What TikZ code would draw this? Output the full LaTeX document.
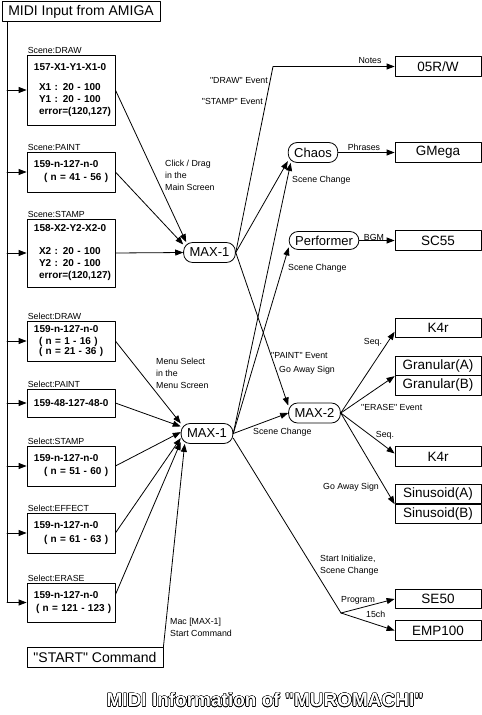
\documentclass[tikz,border=0pt]{standalone}
\usepackage{fontspec}
\setmainfont{Liberation Sans}[Ligatures=TeXOff]
\usepackage{contour}
\contourlength{0.5pt}
\usetikzlibrary{arrows.meta}

\begin{document}
\begin{tikzpicture}[x=1pt,y=-1pt,>={Triangle[length=8pt,width=6pt]},line cap=round,line join=round,
  wire/.style={line width=0.8pt},
  cmdbox/.style={draw,line width=0.8pt,minimum height=20pt,inner xsep=4pt,font=\fontsize{14}{16}\selectfont},
  codebox/.style={draw,line width=0.8pt,minimum width=88pt,text width=84pt,inner xsep=2pt,inner ysep=2pt,align=left,font=\bfseries\fontsize{10}{12}\selectfont},
  unitbox/.style={draw,line width=0.8pt,minimum width=86pt,minimum height=19.5pt,inner sep=1pt,font=\fontsize{13.5}{15}\selectfont},
  pill/.style={draw,line width=0.8pt,rounded corners=9pt,minimum height=20pt,inner xsep=6pt,inner ysep=1pt,font=\fontsize{13}{15}\selectfont},
  tag/.style={inner sep=1pt,anchor=south west,font=\fontsize{8.8}{12}\selectfont},
  note/.style={inner sep=0pt,align=left,font=\fontsize{8.8}{12}\selectfont}]
\useasboundingbox (0,0) rectangle (482,715);
% inputs
\node[cmdbox,minimum width=158pt] (amiga) at (81,11.5) {MIDI Input from AMIGA};
\node[cmdbox,minimum width=136pt] (start) at (95,657.5) {"START" Command};
\node[codebox,minimum height=70pt] (sdraw) at (71,90) {\hspace*{5pt}157-X1-Y1-X1-0\\[8pt]\hspace*{10pt}X1 : 20 - 100\\ \hspace*{10pt}Y1 : 20 - 100\\ \hspace*{10pt}error=(120,127)};
\node[tag] (sdrawtag) at (sdraw.north west) {Scene:DRAW};
\node[codebox,minimum height=40pt] (spaint) at (71,172) {\hspace*{5pt}159-n-127-n-0\\[1pt]\hspace*{15pt}( n = 41 - 56 )};
\node[tag] (spainttag) at (spaint.north west) {Scene:PAINT};
\node[codebox,minimum height=68pt] (sstamp) at (71,253) {\hspace*{5pt}158-X2-Y2-X2-0\\[11pt]\hspace*{10pt}X2 : 20 - 100\\ \hspace*{10pt}Y2 : 20 - 100\\ \hspace*{10pt}error=(120,127)};
\node[tag] (sstamptag) at (sstamp.north west) {Scene:STAMP};
\node[codebox,minimum height=40pt] (seldraw) at (71,341) {\hspace*{5pt}159-n-127-n-0\\ \hspace*{10pt}( n = 1 - 16 )\\[-2pt]\hspace*{10pt}( n = 21 - 36 )};
\node[tag] (seldrawtag) at (seldraw.north west) {Select:DRAW};
\node[codebox,minimum height=28pt] (selpaint) at (71,403) {\hspace*{5pt}159-48-127-48-0};
\node[tag] (selpainttag) at (selpaint.north west) {Select:PAINT};
\node[codebox,minimum height=40pt] (selstamp) at (71,466) {\hspace*{5pt}159-n-127-n-0\\[1pt]\hspace*{15pt}( n = 51 - 60 )};
\node[tag] (selstamptag) at (selstamp.north west) {Select:STAMP};
\node[codebox,minimum height=40pt] (seleffect) at (71,533) {\hspace*{5pt}159-n-127-n-0\\[2pt]\hspace*{15pt}( n = 61 - 63 )};
\node[tag] (seleffecttag) at (seleffect.north west) {Select:EFFECT};
\node[codebox,minimum height=39pt] (selerase) at (71,602.5) {\hspace*{5pt}159-n-127-n-0\\[1pt]\hspace*{7pt}( n = 121 - 123 )};
\node[tag] (selerasetag) at (selerase.north west) {Select:ERASE};
% processes
\node[pill] (maxA) at (209.5,252.5) {MAX-1};
\node[pill] (maxB) at (207,433.5) {MAX-1};
\node[pill] (max2) at (314.5,413) {MAX-2};
\node[pill] (chaos) at (313,152.5) {Chaos};
\node[pill,minimum height=18pt] (perf) at (324,240.5) {Performer};
% sound modules
\node[unitbox] (osr) at (438,66.5) {05R/W};
\node[unitbox] (gmega) at (438,152.5) {GMega};
\node[unitbox] (sc55) at (438,240.5) {SC55};
\node[unitbox] (k4rA) at (438,328) {K4r};
\node[unitbox] (granA) at (438,366) {Granular(A)};
\node[unitbox] (granB) at (438,385.5) {Granular(B)};
\node[unitbox] (k4rB) at (438,456.5) {K4r};
\node[unitbox] (sinA) at (438,494) {Sinusoid(A)};
\node[unitbox] (sinB) at (438,514) {Sinusoid(B)};
\node[unitbox] (se50) at (438,599) {SE50};
\node[unitbox] (emp) at (438,630.5) {EMP100};
\coordinate (bus) at (7,0);
\coordinate (notesbend) at (273,66.5);
\coordinate (split) at (341,613);
% MIDI bus
\draw[wire] (bus |- amiga.south) -- (bus |- selerase.west);
\draw[wire,->] (bus |- sdraw.west) -- (sdraw.west);
\draw[wire,->] (bus |- spaint.west) -- (spaint.west);
\draw[wire,->] (bus |- sstamp.west) -- (sstamp.west);
\draw[wire,->] (bus |- seldraw.west) -- (seldraw.west);
\draw[wire,->] (bus |- selpaint.west) -- (selpaint.west);
\draw[wire,->] (bus |- selstamp.west) -- (selstamp.west);
\draw[wire,->] (bus |- seleffect.west) -- (seleffect.west);
\draw[wire,->] (bus |- selerase.west) -- (selerase.west);
% into MAX-1
\draw[wire,->] (sdraw.east) -- (maxA.156);
\draw[wire,->] (spaint.east) -- (maxA.163);
\draw[wire,->] (sstamp.east) -- (maxA.west);
\draw[wire,->] (seldraw.east) -- (maxB.159);
\draw[wire,->] (selpaint.east) -- (maxB.165);
\draw[wire,->] (selstamp.east) -- (maxB.177);
\draw[wire,->] (seleffect.east) -- (maxB.190);
\draw[wire,->] (selerase.10) -- (maxB.198);
\draw[wire,->] (start.north east) -- (maxB.205);
% out of MAX-1
\draw[wire,->] (maxA.east) -- (notesbend) -- (osr.west);
\draw[wire,->] (maxA.east) -- (chaos.199);
\draw[wire,->] (maxA.east) -- (max2.164);
\draw[wire,->] (maxB.east) -- (chaos.205);
\draw[wire,->] (maxB.east) -- (perf.191);
\draw[wire,->] (maxB.east) -- (max2.west);
\draw[wire] (maxB.350) -- (split);
\draw[wire,->] (split) -- (se50.west);
\draw[wire,->] (split) -- (emp.west);
\draw[wire,->] (chaos.east) -- (gmega.west);
\draw[wire,->] (perf.east) -- (sc55.west);
% out of MAX-2
\draw[wire,->] (max2.east) -- (k4rA.185);
\draw[wire,->] (max2.east) -- (granA.south west);
\draw[wire,->] (max2.east) -- (k4rB.176);
\draw[wire,->] (max2.east) -- (sinA.south west);
% labels
\node[note] (notes) at (370,61) {Notes};
\node[note,anchor=east] (drawev) at (268,81) {"DRAW" Event};
\node[note,anchor=east] (stampev) at (263,101) {"STAMP" Event};
\node[note] (phrases) at (364,147) {Phrases};
\node[note,anchor=west] (chaosch) at (292,180) {Scene Change};
\node[note] (bgm) at (374,237) {BGM};
\node[note,anchor=west] (perfch) at (288,268) {Scene Change};
\node[note,anchor=west] (click) at (165,175) {Click / Drag\\in the\\Main Screen};
\node[note,anchor=west] (menu) at (156,373) {Menu Select\\in the\\Menu Screen};
\node[note,anchor=west] (paintev) at (271,356) {"PAINT" Event};
\node[note,anchor=west] (awayA) at (279,370) {Go Away Sign};
\node[note,anchor=west] (max2ch) at (253,432) {Scene Change};
\node[note] (seqA) at (373,342) {Seq.};
\node[note,anchor=west] (eraseev) at (361,407) {"ERASE" Event};
\node[note] (seqB) at (385,435) {Seq.};
\node[note,anchor=west] (awayB) at (323,487) {Go Away Sign};
\node[note,anchor=west] (initlbl) at (320,565.5) {Start Initialize,\\Scene Change};
\node[note,anchor=west] (program) at (341,600) {Program};
\node[note,anchor=west] (ch15) at (366,614) {15ch};
\node[note,anchor=west] (mac) at (170,627) {Mac [MAX-1]\\Start Command};
\node[text=white,font=\bfseries\fontsize{19}{21}\selectfont] (title) at (265,700) {\contour{black}{MIDI Information of "MUROMACHI"}};
\end{tikzpicture}
\end{document}
